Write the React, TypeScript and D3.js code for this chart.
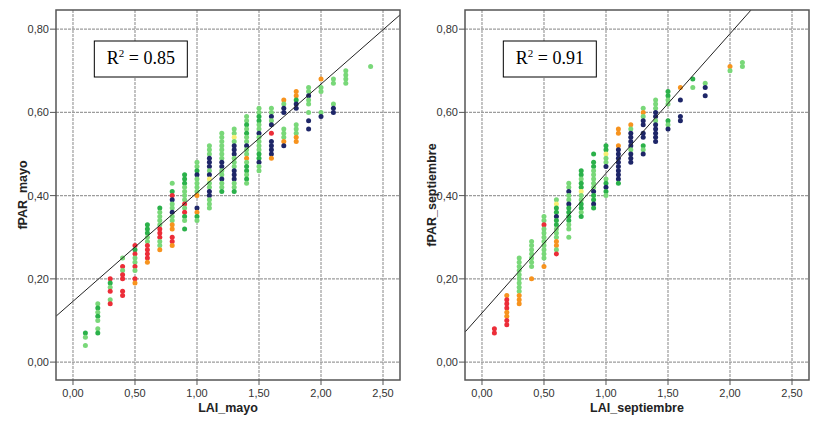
import * as d3 from 'd3';

// point colours by group, as in the SPSS output
const GROUP_COLOR: Record<string, string> = {
  L: '#79d879',
  G: '#2bb14a',
  N: '#1e2668',
  R: '#ec2d38',
  O: '#f7931e',
  Y: '#f7ef75',
};

type Column = { lai: number; fpar: number[]; grp: string };

const mayoColumns: Column[] = [
  { lai: 0.1, fpar: [0.07, 0.06, 0.04], grp: 'GLL' },
  { lai: 0.2, fpar: [0.14, 0.13, 0.12, 0.11, 0.1, 0.08, 0.07], grp: 'LGLGLLG' },
  { lai: 0.3, fpar: [0.2, 0.19, 0.18, 0.17, 0.15, 0.14], grp: 'RGLRLR' },
  { lai: 0.4, fpar: [0.25, 0.23, 0.22, 0.21, 0.2, 0.17, 0.16], grp: 'LRLRRRR' },
  { lai: 0.5, fpar: [0.28, 0.27, 0.26, 0.25, 0.24, 0.23, 0.22, 0.2, 0.19], grp: 'RGRLLRLRO' },
  { lai: 0.6, fpar: [0.33, 0.32, 0.31, 0.3, 0.29, 0.28, 0.27, 0.26, 0.25, 0.24], grp: 'GGGLLRRRRO' },
  { lai: 0.7, fpar: [0.37, 0.36, 0.35, 0.34, 0.33, 0.32, 0.31, 0.3, 0.29, 0.28, 0.27], grp: 'GLLLLRRRLLO' },
  { lai: 0.8, fpar: [0.43, 0.41, 0.4, 0.39, 0.38, 0.37, 0.36, 0.35, 0.34, 0.33, 0.32, 0.3, 0.29, 0.28], grp: 'LGRNLLNLLOORRO' },
  { lai: 0.9, fpar: [0.45, 0.44, 0.43, 0.42, 0.41, 0.4, 0.39, 0.38, 0.37, 0.36, 0.35, 0.34, 0.32], grp: 'GGGLLLLRLRGLG' },
  { lai: 1.0, fpar: [0.48, 0.47, 0.46, 0.45, 0.44, 0.43, 0.42, 0.41, 0.4, 0.37, 0.36, 0.35, 0.34], grp: 'LLGNLLLLONOGL' },
  { lai: 1.1, fpar: [0.52, 0.51, 0.5, 0.49, 0.48, 0.47, 0.46, 0.45, 0.44, 0.43, 0.42, 0.41, 0.4, 0.39, 0.38, 0.37], grp: 'LLLNNNLNYLLNNLLL' },
  { lai: 1.2, fpar: [0.55, 0.54, 0.53, 0.52, 0.51, 0.5, 0.49, 0.48, 0.47, 0.46, 0.45, 0.44, 0.43, 0.42, 0.41], grp: 'LLLLLLLNNLLNLLG' },
  { lai: 1.3, fpar: [0.56, 0.55, 0.54, 0.53, 0.52, 0.51, 0.5, 0.49, 0.48, 0.47, 0.46, 0.45, 0.44, 0.43, 0.42, 0.41], grp: 'LLYLNNNLLLNNNLLG' },
  { lai: 1.4, fpar: [0.59, 0.58, 0.57, 0.56, 0.55, 0.54, 0.53, 0.52, 0.51, 0.5, 0.49, 0.48, 0.47, 0.46, 0.45, 0.44, 0.43], grp: 'LLGLGLLNLLOLGGLGL' },
  { lai: 1.5, fpar: [0.61, 0.6, 0.59, 0.58, 0.57, 0.56, 0.55, 0.54, 0.53, 0.52, 0.51, 0.5, 0.49, 0.48, 0.47, 0.46], grp: 'LLGGLLNLLLLGGNLL' },
  { lai: 1.6, fpar: [0.61, 0.6, 0.59, 0.58, 0.57, 0.55, 0.53, 0.52, 0.51, 0.5, 0.49], grp: 'LLNLNRNNNNO' },
  { lai: 1.7, fpar: [0.63, 0.62, 0.61, 0.6, 0.56, 0.55, 0.54, 0.53, 0.52], grp: 'OLNNLLLON' },
  { lai: 1.8, fpar: [0.65, 0.64, 0.63, 0.62, 0.61, 0.57, 0.56, 0.55, 0.54, 0.53], grp: 'OOGNNLLLOO' },
  { lai: 1.9, fpar: [0.66, 0.65, 0.64, 0.63, 0.62, 0.6, 0.58, 0.56], grp: 'LLNLLLNN' },
  { lai: 2.0, fpar: [0.68, 0.66, 0.65, 0.6, 0.59], grp: 'OLLLN' },
  { lai: 2.1, fpar: [0.68, 0.67, 0.62, 0.61, 0.6], grp: 'LLLNN' },
  { lai: 2.2, fpar: [0.7, 0.69, 0.68, 0.67], grp: 'LLLL' },
  { lai: 2.4, fpar: [0.71], grp: 'L' },
];

const septColumns: Column[] = [
  { lai: 0.1, fpar: [0.08, 0.07], grp: 'RR' },
  { lai: 0.2, fpar: [0.16, 0.15, 0.14, 0.13, 0.12, 0.11, 0.1, 0.09], grp: 'ORRROORR' },
  { lai: 0.3, fpar: [0.25, 0.24, 0.23, 0.22, 0.21, 0.2, 0.19, 0.18, 0.17, 0.16, 0.15, 0.14], grp: 'LLLLLLLLLOOO' },
  { lai: 0.4, fpar: [0.29, 0.28, 0.27, 0.26, 0.25, 0.24, 0.23, 0.2], grp: 'LLLLLLLO' },
  { lai: 0.5, fpar: [0.35, 0.34, 0.33, 0.32, 0.31, 0.3, 0.29, 0.28, 0.27, 0.26, 0.25, 0.23], grp: 'LLRLLLLLLLLO' },
  { lai: 0.6, fpar: [0.39, 0.38, 0.37, 0.36, 0.35, 0.34, 0.33, 0.32, 0.31, 0.3, 0.29, 0.28, 0.27, 0.26], grp: 'LYGGNGGLLLOOLR' },
  { lai: 0.7, fpar: [0.43, 0.42, 0.41, 0.4, 0.39, 0.38, 0.37, 0.36, 0.35, 0.34, 0.33, 0.32, 0.3], grp: 'LLNLLNGGGGLLL' },
  { lai: 0.8, fpar: [0.46, 0.45, 0.44, 0.43, 0.42, 0.41, 0.4, 0.39, 0.38, 0.37, 0.36, 0.35], grp: 'GGLGGYLLGGLG' },
  { lai: 0.9, fpar: [0.5, 0.48, 0.47, 0.46, 0.45, 0.44, 0.43, 0.42, 0.41, 0.4, 0.39, 0.38, 0.37], grp: 'GGGLLLLLNGGNG' },
  { lai: 1.0, fpar: [0.52, 0.51, 0.5, 0.49, 0.48, 0.47, 0.44, 0.43, 0.42, 0.41, 0.4], grp: 'GGYLLNLGNGL' },
  { lai: 1.1, fpar: [0.56, 0.55, 0.52, 0.51, 0.5, 0.49, 0.48, 0.47, 0.46, 0.45, 0.44, 0.43], grp: 'OOONNNNNNNNG' },
  { lai: 1.2, fpar: [0.57, 0.56, 0.55, 0.54, 0.53, 0.52, 0.51, 0.5, 0.49, 0.48], grp: 'OLNNNNLNNN' },
  { lai: 1.3, fpar: [0.61, 0.6, 0.59, 0.58, 0.57, 0.55, 0.54, 0.52, 0.51, 0.5], grp: 'LOLNNNNGLN' },
  { lai: 1.4, fpar: [0.63, 0.62, 0.61, 0.6, 0.59, 0.58, 0.57, 0.56, 0.55, 0.54, 0.53], grp: 'LLLNNLNNNNN' },
  { lai: 1.5, fpar: [0.65, 0.64, 0.63, 0.62, 0.58, 0.57, 0.56], grp: 'GGLLGLN' },
  { lai: 1.6, fpar: [0.66, 0.63, 0.59, 0.58], grp: 'ONNN' },
  { lai: 1.7, fpar: [0.68, 0.66], grp: 'GL' },
  { lai: 1.8, fpar: [0.67, 0.66, 0.64], grp: 'LNN' },
  { lai: 2.0, fpar: [0.71, 0.7], grp: 'OL' },
  { lai: 2.1, fpar: [0.72, 0.71], grp: 'LL' },
];

const xTicks = [0, 0.5, 1, 1.5, 2, 2.5];
const yTicks = [0, 0.2, 0.4, 0.6, 0.8];

// fitted lines
const mayoFit = { intercept: 0.146, slope: 0.261, r2: '0.85' };
const septFit = { intercept: 0.118, slope: 0.3355, r2: '0.91' };

const fmt = (v: number) => v.toFixed(2).replace('.', ',');

const TOP = 10;
const BOTTOM = 380;
const PW = 344;
const SANS = 'Liberation Sans, Arial, sans-serif';

interface PanelProps {
  id: string;
  left: number;
  columns: Column[];
  fit: { intercept: number; slope: number; r2: string };
  xLabel: string;
  yLabel: string;
}

const Panel = ({ id, left, columns, fit, xLabel, yLabel }: PanelProps) => {
  const x = d3.scaleLinear().domain([-0.137, 2.637]).range([left, left + PW]);
  const y = d3.scaleLinear().domain([-0.043, 0.846]).range([BOTTOM, TOP]);
  const [x0, x1] = x.domain();

  const points = columns.flatMap(c =>
    c.fpar.map((f, i) => ({ lai: c.lai, fpar: f, g: c.grp[i] }))
  );

  const fitLine = d3.line<number>()
    .x(d => x(d))
    .y(d => y(fit.intercept + fit.slope * d))([x0, x1]) || '';

  const boxX = x(0.172);
  const boxY = 41;

  return (
    <g>
      <defs>
        <clipPath id={`clip-${id}`}>
          <rect x={left} y={TOP} width={PW} height={BOTTOM - TOP} />
        </clipPath>
      </defs>

      {/* grid */}
      {xTicks.map(t => (
        <line key={`gx${t}`} x1={x(t)} x2={x(t)} y1={TOP} y2={BOTTOM}
          stroke="#9c9c9c" strokeWidth={1.2} strokeDasharray="3,1" />
      ))}
      {yTicks.map(t => (
        <line key={`gy${t}`} x1={left} x2={left + PW} y1={y(t)} y2={y(t)}
          stroke="#9c9c9c" strokeWidth={1.2} strokeDasharray="3,1" />
      ))}

      {/* points */}
      {points.map((p, i) => (
        <circle key={i} cx={x(p.lai)} cy={y(p.fpar)} r={2.5} fill={GROUP_COLOR[p.g]} />
      ))}

      <path d={fitLine} stroke="#222" strokeWidth={1} fill="none" clipPath={`url(#clip-${id})`} />

      {/* frame */}
      <rect x={left} y={TOP} width={PW} height={BOTTOM - TOP} fill="none" stroke="#555" strokeWidth={1.5} />

      {/* axes ticks and labels */}
      {yTicks.map(t => (
        <g key={`ty${t}`}>
          <line x1={left - 6} x2={left} y1={y(t)} y2={y(t)} stroke="#555" />
          <text x={left - 7} y={y(t) + 4} textAnchor="end" fontSize={11}
            fontFamily={SANS} fill="#333">{fmt(t)}</text>
        </g>
      ))}
      {xTicks.map(t => (
        <g key={`tx${t}`}>
          <line x1={x(t)} x2={x(t)} y1={BOTTOM} y2={BOTTOM + 5} stroke="#555" />
          <text x={x(t)} y={BOTTOM + 17} textAnchor="middle" fontSize={11}
            fontFamily={SANS} fill="#333">{fmt(t)}</text>
        </g>
      ))}

      <text x={left + PW / 2} y={412} textAnchor="middle" fontSize={12.5} fontWeight="bold"
        fontFamily={SANS} fill="#222">{xLabel}</text>
      <text transform={`translate(${left - 29},${(TOP + BOTTOM) / 2}) rotate(-90)`}
        textAnchor="middle" fontSize={12.5} fontWeight="bold"
        fontFamily={SANS} fill="#222">{yLabel}</text>

      {/* R² box */}
      <rect x={boxX} y={boxY} width={93} height={36} fill="#fff" stroke="#000" strokeWidth={1} />
      <text x={boxX + 46.5} y={boxY + 23} textAnchor="middle" fontSize={18}
        fontFamily="Liberation Serif, Times New Roman, serif" fill="#000">
        R<tspan fontSize={11} dy={-7}>2</tspan><tspan dy={7}>{` = ${fit.r2}`}</tspan>
      </text>
    </g>
  );
};

export default function App() {
  return (
    <svg width={819} height={428} style={{ position: 'absolute', left: 0, top: 0, background: '#fff' }}>
      <rect width={819} height={428} fill="#fff" />
      <Panel id="mayo" left={56} columns={mayoColumns} fit={mayoFit} xLabel="LAI_mayo" yLabel="fPAR_mayo" />
      <Panel id="sept" left={465} columns={septColumns} fit={septFit} xLabel="LAI_septiembre" yLabel="fPAR_septiembre" />
    </svg>
  );
}
